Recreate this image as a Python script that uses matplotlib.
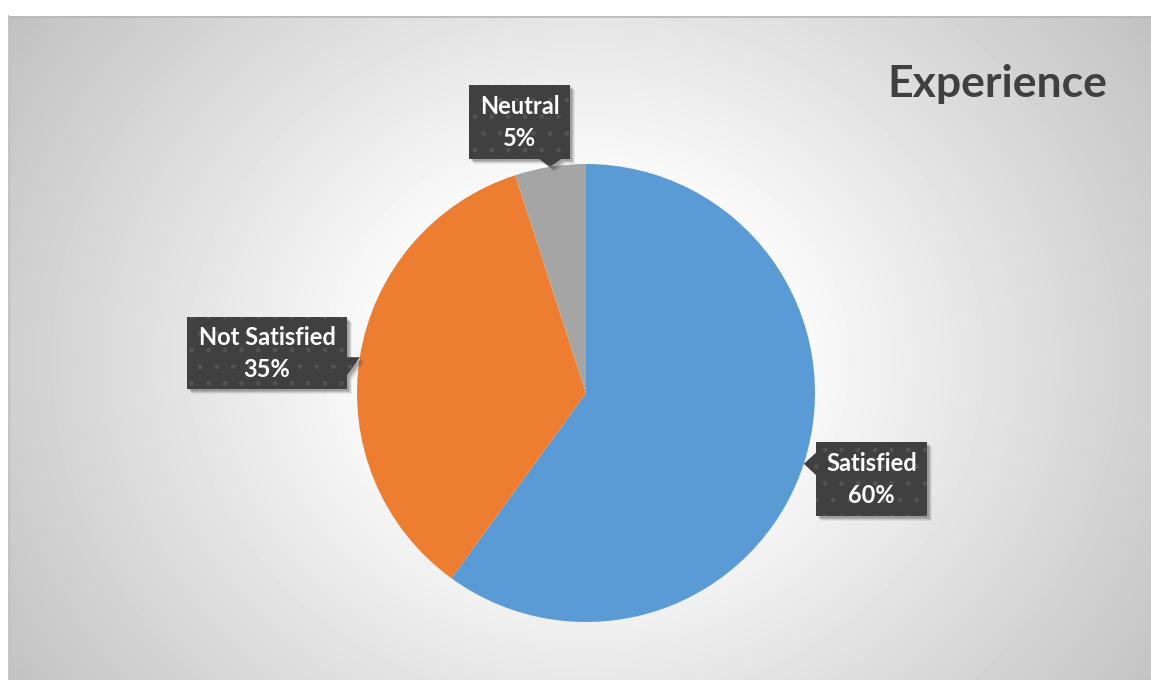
import numpy as np
import matplotlib.pyplot as plt
from matplotlib.patches import Polygon

# --- DATA ---
labels = ["Satisfied", "Not Satisfied", "Neutral"]
shares = [60, 35, 5]
colors = ["#5B9BD5", "#ED7D31", "#A5A5A5"]
title = "Experience"

# --- LAYOUT (pixels, measured from the top-left corner) ---
W, H = 1151, 680
CX, CY, R = 586, 393, 229
BOXES = {  # left, top, right, bottom of each callout
    "Satisfied": (816, 442, 927, 516),
    "Not Satisfied": (187, 317, 347, 389),
    "Neutral": (469, 85, 570, 159),
}
FONT = "Lato"


def fy(y):
    return H - y


fig = plt.figure(figsize=(W / 100, H / 100), dpi=100)
ax = fig.add_axes([0, 0, 1, 1])

# --- background: radial gradient in the chart area ---
x0, y0 = 9, 16
gx, gy = np.meshgrid(np.arange(x0, W) + 0.5, np.arange(y0, H) + 0.5)
d = np.hypot(gx - CX, (gy - 360) * 1.15)
t = np.clip((d - 170) / 520, 0, 1)
shade = 1.0 - 0.24 * t
ax.imshow(shade, cmap="gray", vmin=0, vmax=1, extent=(x0, W, fy(H), fy(y0)),
          origin="upper", zorder=0, interpolation="bilinear")
ax.plot([x0, W], [fy(y0) - 0.5] * 2, color="#b8b8b8", lw=1.2, zorder=1)
ax.plot([x0 + 0.5] * 2, [fy(y0), 0], color="#bdbdbd", lw=1.2, zorder=1)

# --- pie ---
wedges, _ = ax.pie(shares, colors=colors, startangle=90, counterclock=False,
                   center=(CX, fy(CY)), radius=R, frame=True,
                   wedgeprops=dict(linewidth=0))
for w in wedges:
    w.set_zorder(2)


# --- callouts ---
def callout_shape(box, tip):
    l, t, r, b = box
    tx, ty = tip
    half = 11
    if ty > b:  # pointer below
        bx = min(max(tx, l + half), r - half)
        pts = [(l, t), (r, t), (r, b), (bx + half, b), (tx, ty), (bx - half, b), (l, b)]
    elif tx > r:  # pointer to the right
        by = min(max(ty, t), b - 2 * half)
        pts = [(l, t), (r, t), (r, by), (tx, ty), (r, by + 2 * half - 4), (r, b), (l, b)]
    else:  # pointer to the left
        by = min(max(ty, t + half), b - half)
        pts = [(l, t), (r, t), (r, b), (l, b), (l, by + half), (tx, ty), (l, by - half)]
    return [(x, fy(y)) for x, y in pts]


for w, lab, val in zip(wedges, labels, shares):
    mid = np.deg2rad((w.theta1 + w.theta2) / 2)
    tip = (CX + R * np.cos(mid), CY - R * np.sin(mid))
    box = BOXES[lab]
    pts = callout_shape(box, tip)
    for k, a in [(5, 0.06), (4, 0.09), (3, 0.12), (2, 0.12)]:
        ax.add_patch(Polygon([(x + k, y - k) for x, y in pts], closed=True,
                             facecolor="black", alpha=a, lw=0, zorder=3))
    ax.add_patch(Polygon(pts, closed=True, facecolor="#404040", lw=0, zorder=4))
    ax.add_patch(Polygon(pts, closed=True, facecolor="none", edgecolor="#535353",
                         hatch=".", lw=0, zorder=5))
    cx = (box[0] + box[2]) / 2
    cy = (box[1] + box[3]) / 2
    for line, yc in [(lab, cy - 16), (f"{val}%", cy + 16)]:
        ax.text(cx, fy(yc + 8), line, color="white", fontsize=17,
                fontweight="bold", family=FONT, ha="center", va="baseline",
                zorder=6)

# --- title ---
ax.text(997, fy(97), title, color="#404040", fontsize=32, fontweight="bold",
        family=FONT, ha="center", va="baseline", zorder=6)

ax.set_xlim(0, W)
ax.set_ylim(0, H)
ax.set_aspect("auto")
ax.axis("off")
fig.savefig("out.png", dpi=100, facecolor="white")
